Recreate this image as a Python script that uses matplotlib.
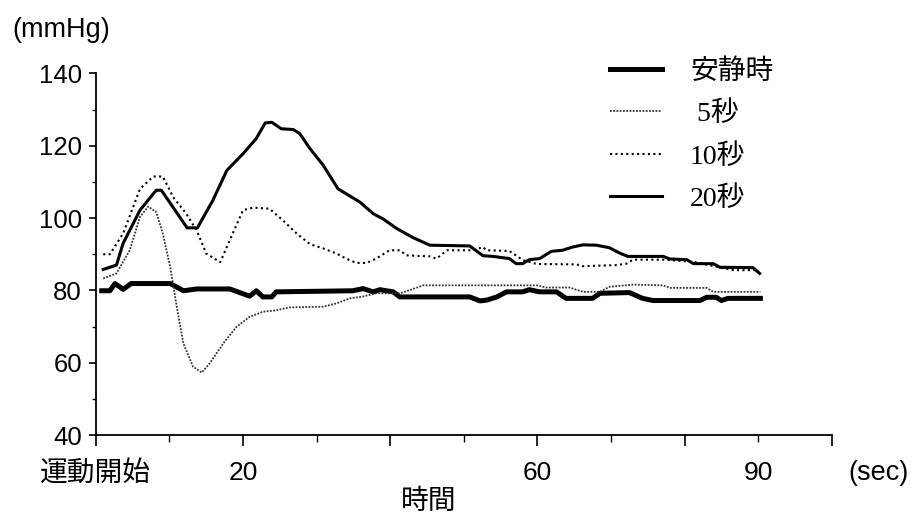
import matplotlib
matplotlib.use("Agg")
import matplotlib.pyplot as plt
from matplotlib.font_manager import FontProperties

plt.rcParams['font.family'] = ['Liberation Sans', 'Noto Sans CJK JP']

# 安静時 (rest)
rest_x = [0.8, 1.9, 2.6, 3.7, 4.8, 10.1, 11.9, 13.7, 18.2, 20.9, 21.8, 22.7, 23.9, 24.5,
          34.9, 36.3, 37.7, 38.6, 40.4, 41.3, 50.8, 52.2, 53.1, 54.5, 55.8, 58.0, 58.9,
          60.3, 62.6, 63.9, 67.5, 68.5, 72.5, 74.3, 75.7, 82.1, 83.0, 84.3, 85.0, 85.9, 90.3]
rest_y = [79.9, 79.9, 81.9, 80.3, 81.9, 81.9, 79.9, 80.4, 80.4, 78.4, 79.9, 78.2, 78.2, 79.6,
          79.9, 80.5, 79.6, 80.2, 79.6, 78.2, 78.2, 77.1, 77.3, 78.2, 79.6, 79.6, 80.2,
          79.6, 79.6, 77.8, 77.8, 79.2, 79.4, 77.8, 77.2, 77.2, 78.1, 78.1, 77.2, 77.8, 77.8]

# 5秒
s5_x = [1.0, 2.8, 4.6, 6.0, 7.1, 8.2, 9.1, 10.1, 11.0, 11.9, 13.2, 14.4, 15.5, 17.3, 19.1,
        20.9, 22.7, 24.5, 26.3, 30.9, 32.7, 34.5, 36.3, 38.1, 41.3, 42.7, 44.5, 59.9, 61.2,
        64.4, 66.2, 68.5, 69.8, 73.0, 77.1, 78.0, 83.0, 83.9, 90.3]
s5_y = [83.3, 84.7, 91.1, 100.3, 103.2, 101.7, 95.7, 86.5, 75.4, 65.3, 58.9, 57.3, 59.9, 65.3, 69.9,
        72.7, 74.1, 74.5, 75.3, 75.5, 76.4, 77.8, 78.3, 79.2, 79.2, 80.1, 81.4, 81.4, 80.8,
        80.8, 79.6, 79.6, 81.0, 81.6, 81.4, 80.7, 80.7, 79.6, 79.6]

# 10秒
s10_x = [1.0, 1.9, 3.7, 6.0, 7.8, 9.1, 10.5, 12.3, 13.7, 15.0, 16.9, 18.2, 20.0, 21.4, 23.6,
         25.4, 27.3, 29.1, 30.9, 32.7, 34.0, 35.4, 36.8, 38.1, 39.9, 41.3, 42.2, 45.4, 46.3,
         47.7, 51.3, 52.6, 53.1, 56.2, 58.0, 59.9, 65.3, 66.2, 70.8, 72.1, 73.0, 77.1, 81.2,
         86.6, 89.8]
s10_y = [90.0, 90.0, 95.7, 108.1, 111.5, 111.5, 105.8, 101.2, 96.6, 90.2, 87.8, 93.9, 102.2, 102.9, 102.6,
         99.4, 95.7, 92.8, 91.6, 90.2, 88.8, 87.6, 87.6, 88.8, 91.1, 91.1, 89.7, 89.4, 88.8,
         91.1, 91.1, 92.0, 91.1, 90.9, 88.4, 87.3, 87.2, 86.7, 87.0, 87.4, 88.5, 88.5, 87.9,
         85.6, 85.6]

# 20秒
s20_x = [1.0, 2.8, 3.7, 6.0, 8.2, 8.9, 12.4, 13.8, 14.1, 15.9, 17.8, 20.0, 21.8, 23.0, 23.9,
         25.2, 26.8, 27.7, 29.1, 30.9, 32.9, 35.9, 37.7, 39.0, 40.9, 43.1, 45.4, 50.8, 52.6,
         54.0, 56.2, 57.1, 58.0, 58.9, 60.3, 61.9, 63.4, 64.8, 66.2, 68.0, 69.8, 71.2, 72.3,
         77.1, 78.0, 80.3, 81.2, 83.9, 84.8, 89.3, 90.2]
s20_y = [85.8, 87.0, 93.0, 102.2, 107.7, 107.7, 97.3, 97.3, 98.4, 104.9, 113.2, 117.8, 122.0, 126.3, 126.5,
         124.7, 124.5, 123.4, 119.2, 114.6, 108.1, 104.4, 101.2, 99.8, 97.1, 94.6, 92.5, 92.3, 89.6,
         89.4, 88.8, 87.4, 87.4, 88.5, 88.8, 90.8, 91.1, 92.0, 92.6, 92.5, 91.8, 90.3, 89.4,
         89.4, 88.7, 88.5, 87.4, 87.4, 86.4, 86.3, 84.7]

legend_labels = ['安静時', ' 5秒', '10秒', '20秒']
# long ticks every 20 s, short ticks in between; only some carry a label
major_x = [0, 20, 40, 60, 80, 100]
major_labels = ['運動開始', '20', '', '60', '', '']
minor_x = [10, 30, 50, 70, 90]
minor_labels = ['', '', '', '', '90']

fig = plt.figure(figsize=(9.13, 5.21), dpi=100)
ax = fig.add_axes([0.105, 0.165, 0.806, 0.694])

ax.plot(rest_x, rest_y, color='black', lw=3.6, solid_joinstyle='round', label=legend_labels[0])
ax.plot(s5_x, s5_y, color='#333333', lw=1.3, linestyle=(0, (1, 0.8)), label=legend_labels[1])
ax.plot(s10_x, s10_y, color='black', lw=1.5, linestyle=(0, (1, 1.6)), label=legend_labels[2])
ax.plot(s20_x, s20_y, color='black', lw=2.2, label=legend_labels[3])

ax.set_xlim(0, 100)
ax.set_ylim(40, 140)
for side in ['top', 'right']:
    ax.spines[side].set_visible(False)
for side in ['left', 'bottom']:
    ax.spines[side].set_linewidth(1.3)

ax.set_yticks(range(40, 141, 20))
ax.set_yticks(range(50, 141, 20), minor=True)
ax.set_xticks(major_x, labels=major_labels)
ax.set_xticks(minor_x, labels=minor_labels, minor=True)

ax.tick_params(axis='y', which='major', direction='out', length=5, width=1.2, labelsize=18.5, pad=5)
ax.tick_params(axis='y', which='minor', direction='out', length=3, width=1.0)
ax.tick_params(axis='x', which='major', direction='out', length=8, width=1.2, labelsize=19, pad=11)
ax.tick_params(axis='x', which='minor', direction='out', length=5, width=1.0, labelsize=19, pad=14)
ax.get_xticklabels()[0].set_fontsize(20)

fig.text(0.014, 0.942, '(mmHg)', fontsize=19.5, ha='left', va='center')
fig.text(0.469, 0.036, '時間', fontsize=20, ha='center', va='center')
fig.text(0.962, 0.092, '(sec)', fontsize=19.5, ha='center', va='center')

leg = ax.legend(loc='upper left', bbox_to_anchor=(0.698, 1.04), frameon=False,
                prop=FontProperties(family=['Liberation Serif', 'Noto Sans CJK JP'], size=20),
                handlelength=1.9, handletextpad=1.0, labelspacing=0.6,
                borderpad=0, borderaxespad=0)

fig.savefig('out.png', dpi=100)
